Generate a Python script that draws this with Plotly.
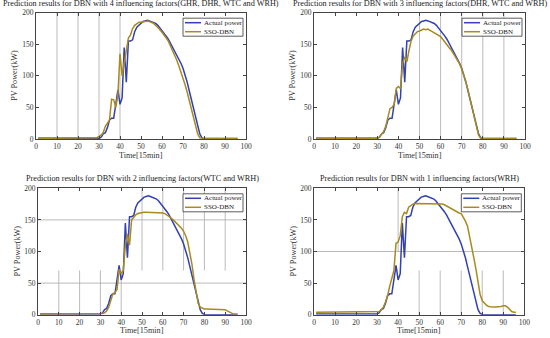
import plotly.graph_objects as go

time = list(range(1, 97))

actual_power = [1]*30 + [3, 8, 10, 18, 30, 33, 33, 55, 78, 55, 65, 145, 90, 155, 155, 157, 170, 177, 180, 184,
                186, 187, 188, 187, 186, 185, 183, 180, 176, 172, 168, 163, 158, 152, 146, 140, 134, 127, 120, 112,
                102, 90, 76, 62, 48, 34, 20, 8, 2] + [0]*17

sso_4 = [1]*28 + [2, 4, 6, 10, 20, 25, 30, 63, 62, 50, 70, 135, 100, 120, 140, 160, 165, 175, 180, 183,
         185, 185, 186, 187, 187, 186, 185, 183, 180, 177, 173, 169, 165, 160, 155, 148, 140, 133, 125, 116,
         107, 97, 86, 74, 60, 46, 32, 18, 8, 2] + [1]*18

sso_3 = [1]*30 + [3, 7, 12, 20, 32, 48, 50, 55, 80, 83, 80, 120, 130, 122, 140, 155, 163, 167, 170, 171,
         172, 174, 173, 174, 172, 170, 168, 165, 163, 162, 158, 153, 149, 145, 141, 136, 131, 126, 119, 111,
         101, 90, 77, 63, 48, 33, 18, 6, 1] + [1]*17

sso_2 = [1]*30 + [2, 3, 6, 12, 22, 33, 35, 40, 72, 65, 70, 110, 128, 110, 150, 155, 158, 160, 161, 162,
         162, 162, 162, 162, 162, 162, 162, 162, 162, 161, 160, 158, 156, 153, 150, 147, 144, 141, 137, 132,
         125, 115, 100, 80, 56, 33, 18, 12, 10, 9, 9, 9, 9, 9, 9, 9, 9, 9, 9, 8, 6, 4, 2, 1, 1, 1]

sso_1 = [4]*30 + [5, 8, 12, 20, 30, 45, 58, 70, 113, 115, 125, 155, 162, 160, 170, 173, 175, 176, 176, 176,
         176, 176, 176, 176, 176, 176, 176, 176, 176, 176, 175, 174, 172, 171, 169, 167, 165, 163, 161, 160,
         155, 148, 140, 125, 108, 90, 72, 50, 32, 22, 18, 15, 13, 12, 12, 12, 12, 12, 13, 14, 14, 12, 8, 5, 4, 4]

titles = [
    "Prediction results for DBN with 4 influencing factors(GHR, DHR, WTC and WRH)",
    "Prediction results for DBN with 3 influencing factors(DHR, WTC and WRH)",
    "Prediction results for DBN with 2 influencing factors(WTC and WRH)",
    "Prediction results for DBN with 1 influencing factors(WRH)",
]
series_names = ["Actual power", "SSO-DBN"]
predictions = [sso_4, sso_3, sso_2, sso_1]
x_ticks = list(range(0, 101, 10))
y_ticks = [0, 50, 100, 150, 200]
x_title = "Time[15min]"
y_title = "PV Power(kW)"

W, H = 550, 338
FONT = "Liberation Serif"
BLUE = "#3140b4"
GOLD = "#a98a1e"
colors = [BLUE, GOLD]

# pixel boxes of the plot areas: (left, right, top, bottom)
boxes = [(36, 246, 12.7, 139), (314, 525, 12.7, 139), (38, 246, 188.3, 314.7), (314, 524.3, 188.3, 314.7)]


def px(x):
    return x / W


def py(y):
    return 1 - y / H


fig = go.Figure()
annotations, shapes = [], []
layout = dict(width=W, height=H, margin=dict(l=0, r=0, t=0, b=0, autoexpand=False),
              paper_bgcolor="white", plot_bgcolor="white", showlegend=False,
              font=dict(family=FONT, size=8, color="#222"))

for i, (l, r, t, b) in enumerate(boxes):
    n = i + 1
    xa = "x" if n == 1 else f"x{n}"
    ya = "y" if n == 1 else f"y{n}"
    for name, vals, col in zip(series_names, [actual_power, predictions[i]], colors):
        fig.add_trace(go.Scatter(x=time, y=vals, mode="lines", name=name,
                                 line=dict(color=col, width=1.5), xaxis=xa, yaxis=ya))
    axcommon = dict(showline=True, linecolor="#444", linewidth=0.8, mirror="ticks", ticks="inside",
                    ticklen=3, tickcolor="#444", showgrid=False, zeroline=False, automargin=False,
                    tickfont=dict(family=FONT, size=7.5, color="#333"))
    layout[f"xaxis{'' if n == 1 else n}"] = dict(
        domain=[px(l), px(r)], range=[0, 100], tickvals=x_ticks, anchor=ya, **axcommon)
    layout[f"yaxis{'' if n == 1 else n}"] = dict(
        domain=[py(b), py(t)], range=[0, 200], tickvals=y_ticks, anchor=xa, **axcommon)
    # subplot title
    annotations.append(dict(text=titles[i], x=px((l + r) / 2), y=py(t - 3), xref="paper", yref="paper",
                            xanchor="center", yanchor="bottom", showarrow=False,
                            font=dict(family=FONT, size=8.2, color="#222")))
    # axis titles
    annotations.append(dict(text=x_title, x=px((l + r) / 2), y=py(b + 16), xref="paper", yref="paper",
                            xanchor="center", yanchor="middle", showarrow=False,
                            font=dict(family=FONT, size=8.2, color="#333")))
    annotations.append(dict(text=y_title, x=px(15 + (l - 36)), y=py((t + b) / 2), xref="paper", yref="paper",
                            xanchor="center", yanchor="middle", showarrow=False, textangle=-90,
                            font=dict(family=FONT, size=8.2, color="#333")))
    # legend box
    L, R, T, B = r - 63, r - 3, t + 5.5, t + 23.5
    shapes.append(dict(type="rect", xref="paper", yref="paper", x0=px(L), x1=px(R), y0=py(B), y1=py(T),
                       line=dict(color="#333", width=0.8), fillcolor="white", layer="above"))
    for k, (name, col) in enumerate(zip(series_names, colors)):
        yy = T + 4.5 + k * 9
        shapes.append(dict(type="line", xref="paper", yref="paper", x0=px(L + 2), x1=px(L + 18),
                           y0=py(yy), y1=py(yy), line=dict(color=col, width=1.5), layer="above"))
        annotations.append(dict(text=name, x=px(L + 19), y=py(yy), xref="paper", yref="paper",
                                xanchor="left", yanchor="middle", showarrow=False,
                                font=dict(family=FONT, size=7, color="#222")))

# partial gray grid segments seen in the reference
grid = [
    (1, "v", 10, 0, 200), (1, "v", 20, 0, 200), (1, "v", 30, 0, 200), (1, "v", 40, 0, 200),
    (2, "v", 50, 0, 200), (2, "v", 60, 0, 200), (2, "v", 70, 0, 200), (2, "v", 80, 0, 200), (2, "v", 90, 0, 200),
    (3, "h", 150, 0, 100), (3, "h", 50, 0, 100),
    (3, "v", 10, 0, 70), (3, "v", 20, 0, 70), (3, "v", 30, 0, 70), (3, "v", 40, 0, 70),
    (3, "v", 50, 70, 200), (3, "v", 60, 70, 200), (3, "v", 70, 70, 200), (3, "v", 80, 70, 200), (3, "v", 90, 70, 200),
    (4, "h", 100, 0, 100), (4, "v", 40, 100, 200),
    (4, "v", 50, 0, 70), (4, "v", 60, 0, 70), (4, "v", 70, 0, 70), (4, "v", 80, 0, 70), (4, "v", 90, 0, 70),
]
for n, kind, pos, a, bnd in grid:
    xr = "x" if n == 1 else f"x{n}"
    yr = "y" if n == 1 else f"y{n}"
    if kind == "v":
        s = dict(type="line", x0=pos, x1=pos, y0=a, y1=bnd)
    else:
        s = dict(type="line", y0=pos, y1=pos, x0=a, x1=bnd)
    s.update(xref=xr, yref=yr, line=dict(color="#aaaaaa", width=0.8), layer="below")
    shapes.append(s)

layout["annotations"] = annotations
layout["shapes"] = shapes
fig.update_layout(**layout)
fig.write_html("out.html", config={"displayModeBar": False},
               post_script="document.body.style.margin='0';document.body.style.overflow='hidden';")
